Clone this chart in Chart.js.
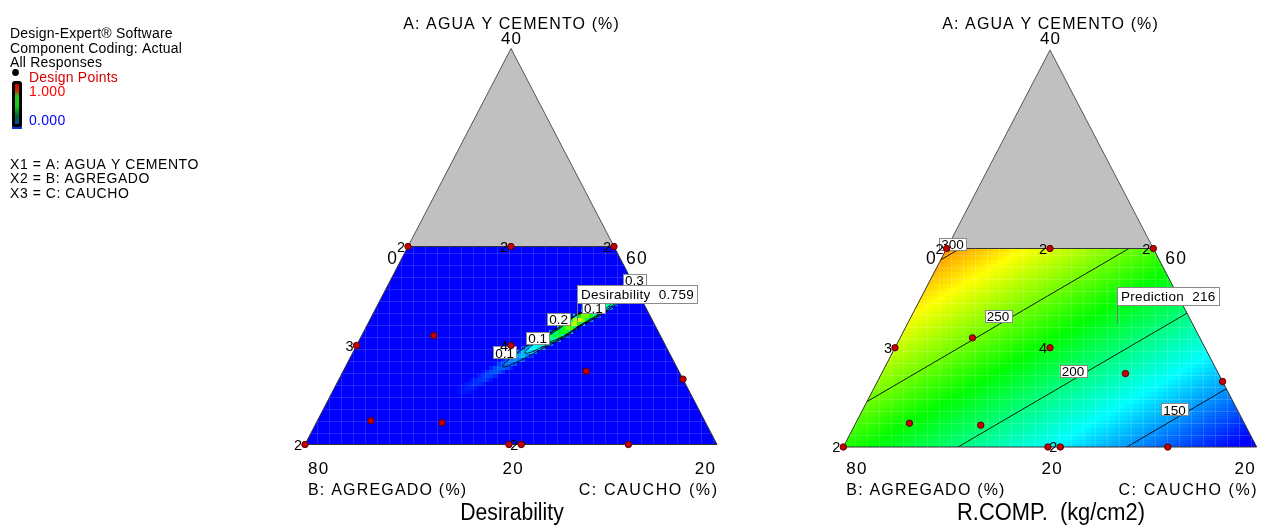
<!DOCTYPE html>
<html>
<head>
<meta charset="utf-8">
<script src="https://cdn.jsdelivr.net/npm/chart.js@4.4.1/dist/chart.umd.min.js"></script>
<style>
  html, body { margin: 0; padding: 0; background: #fff; }
  #wrap { position: relative; width: 1264px; height: 529px; overflow: hidden; }
  #wrap canvas { position: absolute; left: 0; top: 0; }
</style>
</head>
<body>
<div id="wrap">
  <canvas id="desirChart" width="1264" height="529"></canvas>
  <canvas id="rcompChart" width="1264" height="529"></canvas>
</div>
<script>
// ---- Mixture design (actual %): A = agua y cemento, B = agregado, C = caucho ----
const compA = [30, 30, 30, 25, 25.5, 25, 23.7, 23.3, 21.2, 21.1, 20, 20, 20, 20];
const compB = [70, 65, 60, 75, 71, 67.5, 64.5, 60, 76.2, 72.8, 80, 70.1, 69.5, 64.3];
const compC = [0, 5, 10, 0, 3.5, 7.5, 11.8, 16.7, 2.6, 6.1, 0, 9.9, 10.5, 15.7];
const replicates = [2, 2, 2, 3, 1, 4, 1, 1, 1, 1, 2, 1, 2, 1];

// Component bounds (simplex vertices / edges carry these tick labels)
const compMin = [20, 60, 0];
const compMax = [40, 80, 20];
const compNames = ['A: AGUA Y CEMENTO', 'B: AGREGADO', 'C: CAUCHO'];
const upperA = 30; // A above this is excluded (grey)

// ---- R.COMP. (kg/cm2): linear mixture model, pseudo-component coefficients A, B, C ----
const rcompCoef = [374, 234, 111.5];
const rcompLevels = [150, 200, 250, 300];
const rcompColorRange = [118, 335];

// ---- Desirability ridge: stations along the crest (A %, C %) and crest value ----
const ridgeA = [22.7, 23.06, 23.71, 24.32, 25.08, 25.68, 26.25, 26.79, 27.35, 27.85];
const ridgeC = [6.3, 6.68, 7.37, 8.04, 8.87, 9.64, 10.1, 10.83, 11.37, 11.95];
const ridgeD = [0.02, 0.04, 0.08, 0.14, 0.3, 0.52, 0.759, 0.45, 0.3, 0.14];
const desirLevels = [0.1, 0.2, 0.3];

// Optimum (flagged on both plots)
const optA = 26.25, optC = 10.1;

// ---------------------------------------------------------------------------
const FONT = '"Liberation Sans", Arial, Helvetica, sans-serif';
const SPAN = compMax[0] - compMin[0];
const W = 1264, H = 529;

function toUV(A, C) {
  const a = (A - compMin[0]) / SPAN, c = (C - compMin[2]) / SPAN;
  return { x: c + a / 2, y: a };
}
function pseudo(u, v) { const a = v, c = u - v / 2; return [a, 1 - a - c, c]; }
function rcompModel(a, b, c) { return rcompCoef[0] * a + rcompCoef[1] * b + rcompCoef[2] * c; }

const cmapStops = [[0, [0, 0, 255]], [0.25, [0, 255, 255]], [0.5, [0, 255, 0]], [0.75, [255, 255, 0]], [1, [255, 0, 0]]];
function cmap(t) {
  t = Math.min(1, Math.max(0, t));
  for (let i = 1; i < cmapStops.length; i++) {
    if (t <= cmapStops[i][0]) {
      const [t0, c0] = cmapStops[i - 1], [t1, c1] = cmapStops[i];
      const f = (t - t0) / (t1 - t0);
      const c = c0.map((v, k) => Math.round(v + (c1[k] - v) * f));
      return `rgb(${c[0]},${c[1]},${c[2]})`;
    }
  }
  return 'rgb(255,0,0)';
}

function drawText(ctx, s, x, y, o = {}) {
  ctx.save();
  ctx.font = `${o.size || 14}px ${FONT}`;
  ctx.fillStyle = o.color || '#000';
  ctx.textAlign = o.align || 'left';
  ctx.textBaseline = 'alphabetic';
  const ls = o.ls || 0;
  ctx.letterSpacing = ls + 'px';
  let dx = 0;
  if (o.align === 'right') dx = ls;
  if (o.align === 'center') dx = ls / 2;
  ctx.translate(x + dx, y);
  if (o.sx) ctx.scale(o.sx, 1);
  ctx.fillText(s, 0, 0);
  ctx.restore();
}

function contourSegs(grid, nx, ny, x0, y0, step, level) {
  const segs = [];
  for (let j = 0; j < ny - 1; j++) {
    for (let i = 0; i < nx - 1; i++) {
      const xa = x0 + i * step, ya = y0 + j * step;
      const v = [grid[j * nx + i], grid[j * nx + i + 1], grid[(j + 1) * nx + i + 1], grid[(j + 1) * nx + i]];
      const P = [[xa, ya], [xa + step, ya], [xa + step, ya + step], [xa, ya + step]];
      const pts = [];
      for (let k = 0; k < 4; k++) {
        const k2 = (k + 1) % 4;
        const d0 = v[k] - level, d1 = v[k2] - level;
        if ((d0 < 0) !== (d1 < 0)) {
          const f = d0 / (d0 - d1);
          pts.push([P[k][0] + f * (P[k2][0] - P[k][0]), P[k][1] + f * (P[k2][1] - P[k][1])]);
        }
      }
      if (pts.length >= 2) segs.push([pts[0], pts[1]]);
      if (pts.length === 4) segs.push([pts[2], pts[3]]);
    }
  }
  return segs;
}

function ternaryPlugin(spec) {
  return {
    id: 'ternary_' + spec.key,
    beforeDatasetsDraw(chart) {
      const { ctx, scales: { x, y } } = chart;
      const pix = (A, C) => { const q = toUV(A, C); return [x.getPixelForValue(q.x), y.getPixelForValue(q.y)]; };
      const apex = pix(compMax[0], compMin[2]);
      const bl = pix(compMin[0], compMin[2]);
      const br = pix(compMin[0], compMax[2]);
      const tl = pix(upperA, compMin[2]);
      const tr = pix(upperA, 100 - upperA - compMin[1]);
      const trap = () => { ctx.beginPath(); ctx.moveTo(bl[0], bl[1]); ctx.lineTo(br[0], br[1]); ctx.lineTo(tr[0], tr[1]); ctx.lineTo(tl[0], tl[1]); ctx.closePath(); };

      // excluded region
      ctx.save();
      ctx.beginPath(); ctx.moveTo(apex[0], apex[1]); ctx.lineTo(tl[0], tl[1]); ctx.lineTo(tr[0], tr[1]); ctx.closePath();
      ctx.fillStyle = '#c0c0c0'; ctx.fill();
      ctx.strokeStyle = '#555'; ctx.lineWidth = 1; ctx.stroke();
      ctx.restore();

      if (spec.prepare) spec.prepare(pix);
      const value = (px, py) => spec.value(px, py, x, y);

      // response surface cells
      const cell = 4;
      const x0 = Math.floor(bl[0]), x1 = Math.ceil(br[0]);
      const y0 = Math.floor(tl[1]), y1 = Math.ceil(bl[1]);
      ctx.save();
      trap(); ctx.clip();
      for (let py = y0; py < y1; py += cell) {
        for (let px = x0; px < x1; px += cell) {
          const val = value(px + cell / 2, py + cell / 2);
          ctx.fillStyle = cmap((val - spec.range[0]) / (spec.range[1] - spec.range[0]));
          ctx.fillRect(px, py, cell, cell);
        }
      }
      // faint cell seams
      ctx.strokeStyle = 'rgba(255,255,255,0.14)';
      ctx.lineWidth = 1;
      ctx.beginPath();
      for (let px = x0 + 3 * cell; px < x1; px += 3 * cell) { ctx.moveTo(px + 0.5, y0); ctx.lineTo(px + 0.5, y1); }
      for (let py = y1 - 3 * cell; py > y0; py -= 3 * cell) { ctx.moveTo(x0, py + 0.5); ctx.lineTo(x1, py + 0.5); }
      ctx.stroke();

      // contour lines
      const step = 2;
      const nx = Math.ceil((x1 - x0) / step) + 1, ny = Math.ceil((y1 - y0 + 8) / step) + 1;
      const gy0 = y0 - 8;
      const grid = new Float64Array(nx * ny);
      for (let j = 0; j < ny; j++) for (let i = 0; i < nx; i++) grid[j * nx + i] = value(x0 + i * step, gy0 + j * step);
      ctx.strokeStyle = spec.lineColor;
      ctx.lineWidth = 1;
      for (const lev of spec.levels) {
        const segs = contourSegs(grid, nx, ny, x0, gy0, step, lev);
        ctx.beginPath();
        for (const s of segs) { ctx.moveTo(s[0][0], s[0][1]); ctx.lineTo(s[1][0], s[1][1]); }
        ctx.stroke();
      }
      ctx.restore();

      // outline
      ctx.save();
      trap(); ctx.strokeStyle = '#333'; ctx.lineWidth = 1; ctx.stroke();
      ctx.restore();

      // contour labels
      ctx.save();
      ctx.font = `13.5px ${FONT}`;
      for (const lb of spec.labelSpots) {
        const p = pix(lb.A, lb.C);
        const t = String(spec.levels[lb.level]);
        const w = ctx.measureText(t).width + 4;
        ctx.fillStyle = '#fff';
        ctx.fillRect(Math.round(p[0] - w / 2) + 0.5, Math.round(p[1] - 6) + 0.5, Math.round(w), 12);
        ctx.strokeStyle = '#8a8a8a';
        ctx.strokeRect(Math.round(p[0] - w / 2) + 0.5, Math.round(p[1] - 6) + 0.5, Math.round(w), 12);
        ctx.fillStyle = '#000';
        ctx.textAlign = 'center';
        ctx.fillText(t, p[0], p[1] + 5.5);
      }
      ctx.restore();
    },
    afterDatasetsDraw(chart) {
      const { ctx, scales: { x, y } } = chart;
      const pix = (A, C) => { const q = toUV(A, C); return [x.getPixelForValue(q.x), y.getPixelForValue(q.y)]; };
      const apex = pix(compMax[0], compMin[2]);
      const bl = pix(compMin[0], compMin[2]);
      const br = pix(compMin[0], compMax[2]);
      const bm = pix(compMin[0], (compMax[2] + compMin[2]) / 2);
      const tl = pix(upperA, compMin[2]);
      const tr = pix(upperA, 100 - upperA - compMin[1]);

      // replicate counts next to design points
      compA.forEach((A, i) => {
        if (replicates[i] > 1) {
          const p = pix(A, compC[i]);
          drawText(ctx, String(replicates[i]), p[0] - 3, p[1] + 5, { size: 14.5, align: 'right' });
        }
      });

      // optimum flag
      const o = pix(optA, optC);
      const flagText = spec.flagText();
      ctx.save();
      ctx.font = `13.5px ${FONT}`;
      ctx.letterSpacing = '0.3px';
      const fw = Math.round(ctx.measureText(flagText).width + 7);
      const fx = Math.round(o[0]) + 0.5, fb = Math.round(o[1] - 18) + 0.5;
      ctx.strokeStyle = '#777'; ctx.lineWidth = 1;
      ctx.beginPath(); ctx.moveTo(fx, fb); ctx.lineTo(fx, o[1] + 1); ctx.stroke();
      ctx.fillStyle = '#fff'; ctx.fillRect(fx, fb - 18, fw, 18);
      ctx.strokeStyle = '#8a8a8a'; ctx.strokeRect(fx, fb - 18, fw, 18);
      ctx.fillStyle = '#000'; ctx.textBaseline = 'alphabetic';
      ctx.fillText(flagText, fx + 3.5, fb - 4.5);
      ctx.restore();

      // axis texts
      drawText(ctx, compNames[0] + ' (%)', apex[0], 28.5, { size: 16, align: 'center', ls: 1.1 });
      drawText(ctx, String(compMax[0]), apex[0], 43.5, { size: 17, align: 'center', ls: 1.2 });
      drawText(ctx, String(compMin[2]), tl[0] - 11, 263.8, { size: 17.5, align: 'right' });
      drawText(ctx, String(compMin[1]), tr[0] + 12, 263.8, { size: 17.5, ls: 1.2 });
      drawText(ctx, String(compMax[1]), bl[0] + 3, 473.5, { size: 17, ls: 1.3 });
      drawText(ctx, String(compMin[0]), bm[0] + 1.5, 473.5, { size: 17, align: 'center', ls: 1.3 });
      drawText(ctx, String(compMax[2]), br[0] - 2, 473.5, { size: 17, align: 'right', ls: 1.3 });
      drawText(ctx, compNames[1] + ' (%)', bl[0] + 3, 495, { size: 16, ls: 1.2 });
      drawText(ctx, compNames[2] + ' (%)', br[0], 495, { size: 16, align: 'right', ls: 1.6 });
      drawText(ctx, spec.title, bm[0] + 1, 520, { size: 23.5, align: 'center', sx: spec.titleScale });
    }
  };
}

function makeChart(canvasId, geo, spec) {
  const xmin = -geo.left / geo.width, xmax = xmin + W / geo.width;
  const apexY = geo.bottom - geo.height;
  const ymax = 1 + apexY / geo.height, ymin = ymax - H / geo.height;
  const pts = compA.map((A, i) => toUV(A, compC[i]));
  return new Chart(document.getElementById(canvasId), {
    type: 'scatter',
    data: {
      datasets: [{
        data: pts,
        pointRadius: 3.2,
        pointBackgroundColor: '#c40000',
        pointBorderColor: '#5a0000',
        pointBorderWidth: 1,
        clip: false
      }]
    },
    options: {
      responsive: false,
      animation: false,
      devicePixelRatio: 1,
      events: [],
      layout: { padding: 0, autoPadding: false },
      plugins: { legend: { display: false }, tooltip: { enabled: false } },
      scales: {
        x: { type: 'linear', display: false, min: xmin, max: xmax },
        y: { type: 'linear', display: false, min: ymin, max: ymax }
      }
    },
    plugins: [ternaryPlugin(spec)].concat(spec.extraPlugins || [])
  });
}

// Left: overall desirability
const legendPlugin = {
  id: 'sideLegend',
  afterDraw(chart) {
    const ctx = chart.ctx;
    drawText(ctx, 'Design-Expert\u00ae Software', 10, 38.3, { size: 14, ls: 0.2 });
    drawText(ctx, 'Component Coding: Actual', 10, 52.7, { size: 14, ls: 0.2 });
    drawText(ctx, 'All Responses', 10, 67.3, { size: 14, ls: 0.2 });
    drawText(ctx, 'Design Points', 29, 81.7, { size: 14, color: '#d40000', ls: 0.2 });
    drawText(ctx, '1.000', 29, 95.7, { size: 14, color: '#ff0000', ls: 0.3 });
    drawText(ctx, '0.000', 29, 125, { size: 14, color: '#0000ff', ls: 0.3 });
    drawText(ctx, 'X1 = ' + compNames[0], 10, 169.3, { size: 14, ls: 0.55 });
    drawText(ctx, 'X2 = ' + compNames[1], 10, 183.3, { size: 14, ls: 0.55 });
    drawText(ctx, 'X3 = ' + compNames[2], 10, 197.7, { size: 14, ls: 0.55 });
    // design point symbol
    ctx.save();
    ctx.fillStyle = '#000';
    ctx.beginPath(); ctx.arc(15.5, 72.5, 3.4, 0, Math.PI * 2); ctx.fill();
    // colour bar
    ctx.fillStyle = '#1030d0'; ctx.fillRect(12, 124, 10, 5);
    ctx.beginPath(); ctx.roundRect(12, 81, 10, 46, 3); ctx.fillStyle = '#000'; ctx.fill();
    const g = ctx.createLinearGradient(0, 84, 0, 124);
    g.addColorStop(0, '#e00000'); g.addColorStop(0.18, '#c83000'); g.addColorStop(0.3, '#30c020');
    g.addColorStop(0.55, '#10d010'); g.addColorStop(0.8, '#006040'); g.addColorStop(1, '#0050a0');
    ctx.fillStyle = g; ctx.fillRect(15, 84, 4, 40);
    ctx.restore();
  }
};

makeChart('desirChart', { left: 305, width: 412, bottom: 444.5, height: 396 }, {
  key: 'desir',
  range: [0, 1],
  levels: desirLevels,
  lineColor: 'rgba(0,0,0,0.85)',
  title: 'Desirability',
  titleScale: 0.9,
  labelSpots: [
    { level: 2, A: 28.33, C: 11.83 },
    { level: 0, A: 26.94, C: 10.53 },
    { level: 1, A: 26.34, C: 9.14 },
    { level: 0, A: 25.38, C: 8.60 },
    { level: 0, A: 24.65, C: 7.36 }
  ],
  prepare(pix) {
    this.ridge = ridgeA.map((A, i) => { const p = pix(A, ridgeC[i]); return { x: p[0], y: p[1], d: ridgeD[i] }; });
  },
  value(px, py) {
    const r = this.ridge;
    let best = Infinity, peak = 0;
    for (let i = 0; i < r.length - 1; i++) {
      const dx = r[i + 1].x - r[i].x, dy = r[i + 1].y - r[i].y;
      let t = ((px - r[i].x) * dx + (py - r[i].y) * dy) / (dx * dx + dy * dy);
      t = Math.max(0, Math.min(1, t));
      const dist = Math.hypot(r[i].x + t * dx - px, r[i].y + t * dy - py);
      if (dist < best) { best = dist; peak = r[i].d + (r[i + 1].d - r[i].d) * t; }
    }
    const hw = 6.5;
    return peak * Math.max(0, 1 - (best / hw) * (best / hw));
  },
  flagText() { return 'Desirability  ' + ridgeD[ridgeA.indexOf(optA)].toFixed(3); },
  extraPlugins: [legendPlugin]
});

// Right: compressive strength
makeChart('rcompChart', { left: 843.3, width: 413.4, bottom: 447, height: 397 }, {
  key: 'rcomp',
  range: rcompColorRange,
  levels: rcompLevels,
  lineColor: 'rgba(0,0,0,0.9)',
  title: 'R.COMP.  (kg/cm2)',
  titleScale: 0.93,
  labelSpots: [
    { level: 3, A: 30.25, C: 0.16 },
    { level: 2, A: 26.6, C: 4.18 },
    { level: 1, A: 23.85, C: 9.19 },
    { level: 0, A: 21.89, C: 15.08 }
  ],
  value(px, py, xs, ys) {
    const [a, b, c] = pseudo(xs.getValueForPixel(px), ys.getValueForPixel(py));
    return rcompModel(a, b, c);
  },
  flagText() {
    const a = (optA - compMin[0]) / SPAN, c = (optC - compMin[2]) / SPAN;
    return 'Prediction  ' + Math.round(rcompModel(a, 1 - a - c, c));
  }
});
</script>
</body>
</html>
